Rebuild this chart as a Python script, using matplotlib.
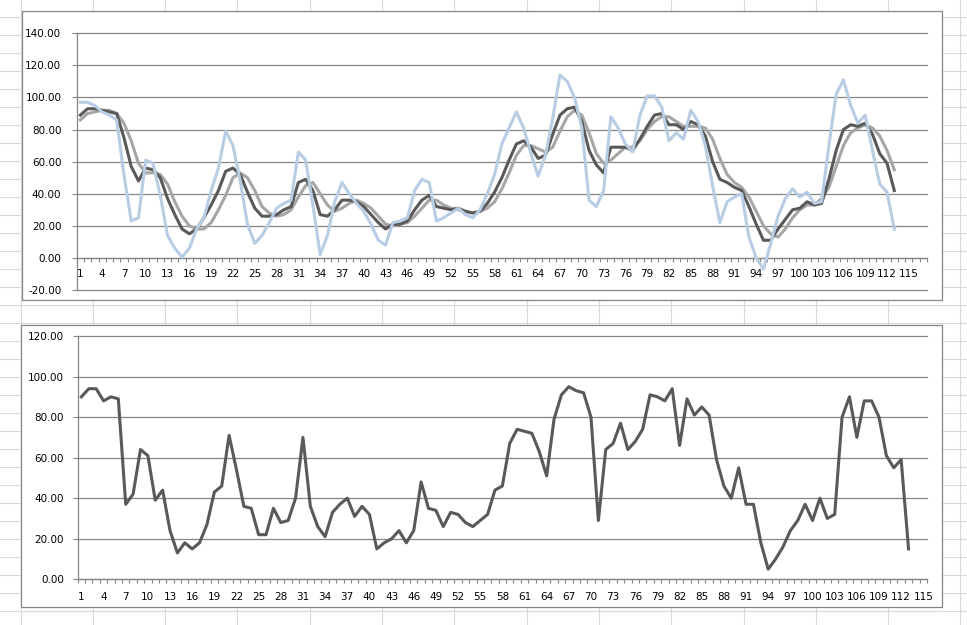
import numpy as np
import matplotlib
matplotlib.use("Agg")
from matplotlib import pyplot as plt
from matplotlib.patches import Rectangle
from matplotlib.ticker import FixedLocator, FuncFormatter

# top chart: three series (raw, short average, longer average)
top_dark = [89, 93, 93, 92, 91, 90, 75, 57, 48, 56,
            55, 50, 37, 27, 18, 15, 18, 25, 33, 42,
            54, 56, 52, 41, 31, 26, 26, 27, 30, 32,
            47, 49, 42, 27, 26, 30, 36, 36, 35, 32,
            27, 22, 18, 21, 21, 23, 30, 36, 39, 32,
            31, 30, 31, 29, 28, 29, 34, 41, 50, 61,
            71, 73, 69, 62, 64, 77, 89, 93, 94, 85,
            67, 58, 53, 69, 69, 69, 67, 74, 82, 89,
            90, 83, 83, 80, 85, 83, 76, 60, 49, 47,
            44, 42, 32, 21, 11, 11, 18, 24, 30, 31,
            35, 33, 34, 49, 67, 80, 83, 82, 84, 77,
            65, 59, 42]
top_gray = [86, 90, 91, 92, 92, 90, 84, 73, 59, 53,
            53, 52, 46, 35, 26, 20, 18, 18, 22, 30,
            39, 50, 53, 50, 42, 32, 28, 26, 27, 30,
            38, 45, 47, 40, 33, 29, 31, 34, 36, 34,
            31, 26, 21, 20, 21, 22, 26, 31, 36, 36,
            33, 31, 30, 29, 28, 29, 31, 35, 43, 53,
            64, 70, 70, 68, 66, 69, 79, 88, 92, 89,
            78, 65, 59, 61, 65, 69, 69, 73, 80, 85,
            88, 88, 85, 82, 82, 82, 81, 74, 62, 52,
            47, 44, 38, 29, 20, 15, 13, 18, 25, 30,
            33, 33, 37, 44, 57, 70, 78, 81, 83, 81,
            76, 67, 55]
top_blue = [97, 97, 95, 91, 89, 86, 52, 23, 25, 61,
            59, 39, 14, 6, 0.5, 6, 18, 25, 42, 56,
            79, 70, 48, 21, 9, 14, 22, 31, 34, 36,
            66, 61, 33, 2, 14, 35, 47, 40, 34, 29,
            21, 11, 8, 22, 23, 25, 42, 49, 47, 23,
            25, 28, 31, 27, 25, 30, 40, 52, 71, 81,
            91, 81, 65, 51, 64, 87, 114, 110, 100, 81,
            36, 32, 42, 88, 81, 71, 66, 89, 101, 101,
            94, 73, 78, 74, 92, 85, 70, 45, 22, 35,
            38, 40, 13, 0, -7, 9, 26, 37, 43, 38,
            41, 34, 35, 70, 102, 111, 95, 84, 89, 67,
            46, 41, 18]

# bottom chart: single series
bottom = [90, 94, 94, 88, 90, 89, 37, 42, 64, 61,
          39, 44, 24, 13, 18, 15, 18, 27, 43, 46,
          71, 54, 36, 35, 22, 22, 35, 28, 29, 40,
          70, 36, 26, 21, 33, 37, 40, 31, 36, 32,
          15, 18, 20, 24, 18, 24, 48, 35, 34, 26,
          33, 32, 28, 26, 29, 32, 44, 46, 67, 74,
          73, 72, 63, 51, 79, 91, 95, 93, 92, 80,
          29, 64, 67, 77, 64, 68, 74, 91, 90, 88,
          94, 66, 89, 81, 85, 81, 59, 46, 40, 55,
          37, 37, 18, 5, 10, 16, 24, 29, 37, 29,
          40, 30, 32, 80, 90, 70, 88, 88, 80, 61,
          55, 59, 15]

top_ncat = 117
bottom_ncat = 115
top_yticks = list(range(-20, 141, 20))
bottom_yticks = list(range(0, 121, 20))

W, H = 967, 625
GRID = '#868686'
FS = 7.5

plt.rcParams['font.family'] = ['DejaVu Sans']

fig = plt.figure(figsize=(W / 100, H / 100), dpi=100)

# spreadsheet cells behind the charts
bg = fig.add_axes([0, 0, 1, 1])
bg.set_xlim(0, W)
bg.set_ylim(H, 0)
bg.axis('off')
for x in np.arange(20.5, W, 72.3):
    bg.axvline(x, color='#d9d9d9', lw=0.8, zorder=0)
for y in np.arange(17, H, 18):
    bg.axhline(y, color='#d9d9d9', lw=0.8, zorder=0)
bg.add_patch(Rectangle((22, 11), 920, 289, facecolor='white', edgecolor=GRID, lw=0.9, zorder=2))
bg.add_patch(Rectangle((21, 325), 921, 282, facecolor='white', edgecolor=GRID, lw=0.9, zorder=2))


def px_axes(left, top, right, bottom_px):
    return fig.add_axes([left / W, 1 - bottom_px / H, (right - left) / W, (bottom_px - top) / H])


def style_axes(ax, ncat, yticks, xpad, ypad):
    ax.set_facecolor('none')
    ax.set_xlim(0.5, ncat + 0.5)
    ax.set_ylim(yticks[0], yticks[-1])
    ax.set_yticks(yticks)
    ax.yaxis.set_major_formatter(FuncFormatter(lambda v, p: f'{v:.2f}'))
    ax.yaxis.grid(True, color=GRID, lw=0.9)
    for gl in ax.get_ygridlines():
        gl.set_clip_on(False)
    ax.set_axisbelow(True)
    for s in ['top', 'right']:
        ax.spines[s].set_visible(False)
    ax.spines['left'].set_color(GRID)
    ax.spines['left'].set_linewidth(0.9)
    ax.spines['bottom'].set_color(GRID)
    ax.spines['bottom'].set_linewidth(0.9)
    ax.spines['bottom'].set_position(('data', 0))
    ax.xaxis.set_major_locator(FixedLocator(list(range(1, ncat + 1, 3))))
    ax.xaxis.set_minor_locator(FixedLocator(list(np.arange(0.5, ncat + 1, 1.0))))
    ax.tick_params(axis='x', which='major', length=0, pad=xpad, labelsize=FS)
    ax.tick_params(axis='x', which='minor', length=3, width=0.8, color=GRID, direction='out')
    ax.tick_params(axis='y', length=3.5, width=0.8, color=GRID, pad=ypad, labelsize=FS)


ax1 = px_axes(76.7, 33.3, 927, 290)
style_axes(ax1, top_ncat, top_yticks, 8, 7.5)
x_top = np.arange(1, len(top_dark) + 1)
ax1.plot(x_top, top_gray, color='#a6a6a6', lw=2.2, solid_joinstyle='round', zorder=3)
ax1.plot(x_top, top_dark, color='#595959', lw=2.2, solid_joinstyle='round', zorder=4)
ax1.plot(x_top, top_blue, color='#b8cce4', lw=2.2, solid_joinstyle='round', zorder=5)

ax2 = px_axes(77.7, 336, 927, 579.3)
style_axes(ax2, bottom_ncat, bottom_yticks, 9, 6.5)
x_bot = np.arange(1, len(bottom) + 1)
ax2.plot(x_bot, bottom, color='#595959', lw=2.2, solid_joinstyle='round', zorder=4)

fig.savefig('out.png', dpi=100)
